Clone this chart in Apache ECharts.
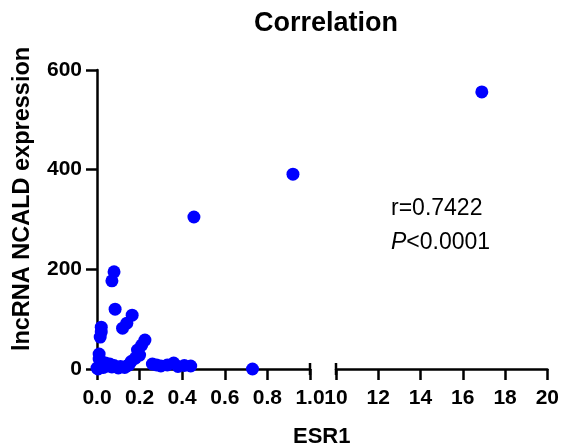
<!DOCTYPE html>
<html>
<head>
<meta charset="utf-8">
<script src="https://cdn.jsdelivr.net/npm/echarts@6/dist/echarts.min.js"></script>
<style>
  html, body { margin: 0; padding: 0; background: #fff; }
  #chart { width: 562px; height: 448px; }
</style>
</head>
<body>
<div id="chart"></div>
<script>
// ESR1 (x) vs lncRNA NCALD expression (y)
const esr1 = [
  0.00, 0.01, 0.02, 0.03, 0.04, 0.05, 0.06, 0.07, 0.08, 0.10,
  0.11, 0.13, 0.14, 0.15, 0.005, 0.01, 0.02, 0.01, 0.02, 0.02,
  0.015, 0.08, 0.07, 0.085, 0.165, 0.14, 0.12, 0.225, 0.21, 0.19,
  0.16, 0.18, 0.20, 0.26, 0.28, 0.30, 0.33, 0.36, 0.38, 0.41,
  0.44, 0.73, 0.455, 0.92, 16.9
];
const ncald = [
  2, 5, 8, 3, 12, 6, 10, 4, 7, 2,
  5, 3, 6, 8, 0, 20, 15, 30, 84, 74,
  64, 195, 177, 120, 108, 92, 82, 58, 48, 38,
  15, 22, 28, 10, 8, 6, 8, 12, 5, 7,
  6, 0, 305, 391, 556
];
const yTicks = [0, 200, 400, 600];

const lowPts = [], highPts = [];
esr1.forEach(function (x, i) {
  (x <= 1 ? lowPts : highPts).push([x, ncald[i]]);
});

const TOP = 70, BOTTOM = 79;
const L1 = 97, W1 = 213, L2 = 336, W2 = 212;
const AXIS_Y = 448 - BOTTOM;
const FONT = 'Liberation Sans, Arial, sans-serif';

const tickLabel = { color: '#000', fontFamily: FONT, fontWeight: 'bold', fontSize: 21 };

function xAxis(idx, min, max, interval) {
  return {
    type: 'value', gridIndex: idx, min: min, max: max, interval: interval,
    axisLine: { show: true, lineStyle: { color: '#000', width: 2.5 } },
    axisTick: { show: true, inside: false, length: 11, lineStyle: { color: '#000', width: 2.5 } },
    axisLabel: Object.assign({ margin: 19, formatter: function (v) {
      return interval < 1 ? v.toFixed(1) : String(v);
    } }, tickLabel),
    splitLine: { show: false }
  };
}

const chart = echarts.init(document.getElementById('chart'));
chart.setOption({
  animation: false,
  backgroundColor: '#fff',
  title: {
    text: 'Correlation', left: 249, top: 5,
    textStyle: { fontFamily: FONT, fontWeight: 'bold', fontSize: 27, color: '#000' }
  },
  grid: [
    { left: L1, width: W1, top: TOP, bottom: BOTTOM },
    { left: L2, width: W2, top: TOP, bottom: BOTTOM }
  ],
  xAxis: [xAxis(0, 0, 1, 0.2), xAxis(1, 10, 20, 2)],
  yAxis: [
    {
      type: 'value', gridIndex: 0, min: 0, max: yTicks[yTicks.length - 1], interval: 200,
      axisLine: { show: true, lineStyle: { color: '#000', width: 2.5 } },
      axisTick: { show: true, length: 11, lineStyle: { color: '#000', width: 2.5 } },
      axisLabel: Object.assign({ margin: 15 }, tickLabel),
      splitLine: { show: false }
    },
    { type: 'value', gridIndex: 1, min: 0, max: 600, interval: 200, show: false }
  ],
  series: [
    { type: 'scatter', xAxisIndex: 0, yAxisIndex: 0, data: lowPts, symbolSize: 13,
      itemStyle: { color: '#0000ff', opacity: 1 } },
    { type: 'scatter', xAxisIndex: 1, yAxisIndex: 1, data: highPts, symbolSize: 13,
      itemStyle: { color: '#0000ff', opacity: 1 } }
  ],
  graphic: [
    { type: 'text', x: 23, y: 199, rotation: Math.PI / 2,
      style: { text: 'lncRNA NCALD expression', align: 'center', verticalAlign: 'middle',
        fontFamily: FONT, fontWeight: 'bold', fontSize: 23.5, fill: '#000' } },
    { type: 'text', left: 293, top: 426,
      style: { text: 'ESR1', fontFamily: FONT, fontWeight: 'bold', fontSize: 22, fill: '#000' } },
    { type: 'text', left: 391, top: 197,
      style: { text: 'r=0.7422', fontFamily: FONT, fontSize: 23, fill: '#000' } },
    { type: 'text', left: 391, top: 231,
      style: {
        text: '{i|P}<0.0001', fontFamily: FONT, fontSize: 23, fill: '#000',
        rich: { i: { fontStyle: 'italic', fontFamily: FONT, fontSize: 23, fill: '#000' } }
      } },
    // axis break caps
    { type: 'line', shape: { x1: L1 + W1, y1: AXIS_Y - 6, x2: L1 + W1, y2: AXIS_Y + 6 },
      style: { stroke: '#000', lineWidth: 2.5 } },
    { type: 'line', shape: { x1: L2, y1: AXIS_Y - 6, x2: L2, y2: AXIS_Y + 6 },
      style: { stroke: '#000', lineWidth: 2.5 } }
  ]
});
</script>
</body>
</html>
